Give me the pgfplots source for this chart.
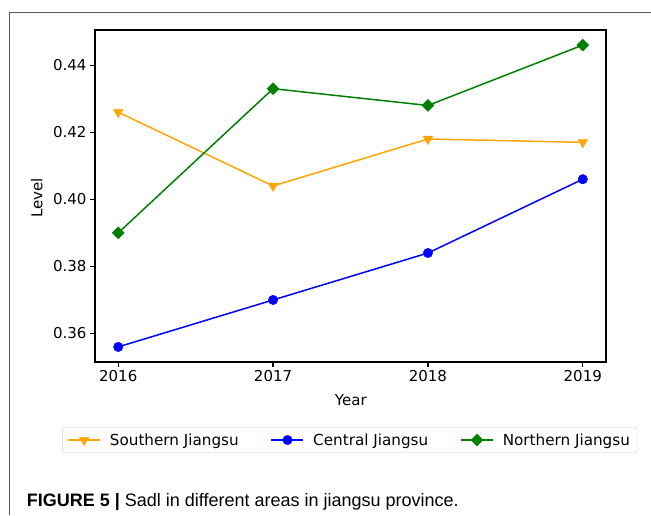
\documentclass[border=0pt]{standalone}
\usepackage{fontspec}
\setmainfont{DejaVu Sans}
\newfontfamily\capfont{Liberation Sans}
\usepackage{pgfplots}
\pgfplotsset{compat=1.18}
\definecolor{mplorange}{HTML}{FFA500}
\definecolor{mplblue}{HTML}{0000FF}
\definecolor{mplgreen}{HTML}{008000}
\pgfplotstableread{
year south central north
2016 0.426 0.356 0.390
2017 0.404 0.370 0.433
2018 0.418 0.384 0.428
2019 0.417 0.406 0.446
}\datatable
\begin{document}
\begin{tikzpicture}[x=1pt,y=1pt]
\useasboundingbox (0,0) rectangle (651,515);
\draw[black!65, line width=1pt] (9.3,0) -- (9.3,502.7) -- (651,502.7);
\begin{axis}[
  at={(95pt,153pt)}, anchor=south west,
  scale only axis, width=511pt, height=332pt,
  xmin=2015.85, xmax=2019.15,
  ymin=0.3515, ymax=0.4505,
  xtick={2016,2017,2018,2019},
  xticklabels={2016,2017,2018,2019},
  ytick={0.36,0.38,0.40,0.42,0.44},
  yticklabel style={/pgf/number format/.cd, fixed, fixed zerofill, precision=2},
  /pgf/number format/assume math mode=true,
  tick label style={font=\fontsize{15}{18}\selectfont, text=black},
  tick align=outside, major tick length=5pt,
  tick style={black, line width=1.2pt},
  axis line style={black, line width=1.2pt},
  xtick pos=bottom, ytick pos=left,
  xlabel={Year}, ylabel={Level},
  label style={font=\fontsize{15}{18}\selectfont},
  xlabel style={at={(axis description cs:0.5006,-0.1145)}, anchor=center},
  ylabel style={at={(axis description cs:-0.114,0.494)}, anchor=center},
  legend columns=3,
  legend style={at={(axis description cs:0.4984,-0.235)}, anchor=center,
    draw=black!20, rounded corners=2pt, font=\fontsize{15.2}{18}\selectfont,
    inner xsep=5pt, inner ysep=4pt,
    /tikz/every odd column/.append style={column sep=7pt},
    /tikz/every even column/.append style={column sep=30pt}},
  legend cell align=left,
  legend image code/.code={\draw[mark repeat=2,mark phase=2] plot coordinates {(0pt,0pt)(16pt,0pt)(32pt,0pt)};},
]
\addplot[mplorange, line width=1.5pt, mark=triangle*, mark size=5.5pt, mark options={rotate=180, fill=mplorange, draw=mplorange, line width=0.5pt}] table[x=year,y=south] {\datatable};
\addlegendentry{Southern Jiangsu}
\addplot[mplblue, line width=1.5pt, mark=*, mark size=4.7pt, mark options={fill=mplblue, draw=mplblue, line width=0.5pt}] table[x=year,y=central] {\datatable};
\addlegendentry{Central Jiangsu}
\addplot[mplgreen, line width=1.5pt, mark=square*, mark size=4.2pt, mark options={rotate=45, fill=mplgreen, draw=mplgreen, line width=0.5pt}] table[x=year,y=north] {\datatable};
\addlegendentry{Northern Jiangsu}
\end{axis}
\node[anchor=base west, inner sep=0pt, font=\capfont\fontsize{18}{21}\selectfont] at (26.7,9) {\textbf{FIGURE 5 |} Sadl in different areas in jiangsu province.};
\end{tikzpicture}
\end{document}
